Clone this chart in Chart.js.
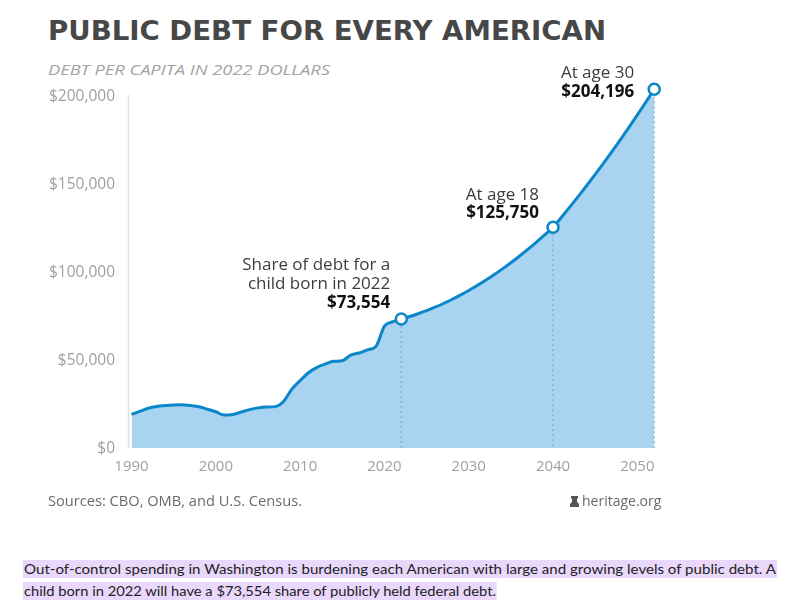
<!DOCTYPE html>
<html>
<head>
<meta charset="utf-8">
<script src="https://cdn.jsdelivr.net/npm/chart.js@4/dist/chart.umd.min.js"></script>
<style>
  html, body { margin:0; padding:0; background:#fff; }
  body { width:800px; height:608px; position:relative; overflow:hidden; }
  .abs { position:absolute; white-space:nowrap; transform-origin:left top; }
  #title { left:48px; top:18px; font:bold 26px "DejaVu Sans"; line-height:26px; color:#474747; }
  #subtitle { left:48px; top:61.7px; font:italic 15px "Open Sans"; line-height:15px; color:#a3a3a3; }
  #sources { left:48px; top:493.6px; font:14px "Open Sans"; line-height:14px; color:#6a6a6a; }
  #heritage { left:570px; top:493.6px; font:14px "Open Sans"; line-height:14px; color:#6a6a6a; }
  .cap { left:23px; font:14px "Lato"; line-height:18px; height:18px; color:#222; background:#e9d8fb; display:inline-block; padding:0 1px; }
  #cap1 { top:560px; }
  #cap2 { top:582px; }
  #wrap { position:absolute; left:0; top:0; width:800px; height:608px; }
</style>
</head>
<body>
<div id="title" class="abs">PUBLIC DEBT FOR EVERY AMERICAN</div>
<div id="subtitle" class="abs">DEBT PER CAPITA IN 2022 DOLLARS</div>
<div id="wrap"><canvas id="c" width="800" height="608"></canvas></div>
<div id="sources" class="abs">Sources: CBO, OMB, and U.S. Census.</div>
<div id="heritage" class="abs"><svg width="9" height="11" viewBox="0 0 9 11" style="vertical-align:-1px;margin-right:3px"><path d="M1 0h7v2l-1 1v3l2 2v3H0V8l2-2V3L1 2z" fill="#555"/></svg>heritage.org</div>
<div id="cap1" class="abs cap">Out-of-control spending in Washington is burdening each American with large and growing levels of public debt. A</div>
<div id="cap2" class="abs cap">child born in 2022 will have a $73,554 share of publicly held federal debt.</div>

<script>
// ---- data ----
const years = [1990,1991,1992,1993,1994,1995,1996,1997,1998,1999,
               2000,2001,2002,2003,2004,2005,2006,2007,2008,2009,
               2010,2011,2012,2013,2014,2015,2016,2017,2018,2019,
               2020,2021,2022,2023,2024,2025,2026,2027,2028,2029,
               2030,2031,2032,2033,2034,2035,2036,2037,2038,2039,
               2040,2041,2042,2043,2044,2045,2046,2047,2048,2049,
               2050,2051,2052];
const debtPerCapita = [19300,21000,22800,23800,24300,24700,24800,24300,23600,22200,
                       20800,18900,19200,20600,22000,23000,23500,23700,26500,33500,
                       38500,43000,46000,48000,49500,49800,53000,54200,56000,58000,
                       69500,72000,73554,74966,76553,78315,80252,82364,84651,87113,
                       89750,92562,95549,98711,102048,105560,109247,113109,117146,121358,
                       125750,131462,137324,143336,149498,155810,162272,168884,175646,182558,
                       189620,196832,204196];
const xTickYears = [1990,2000,2010,2020,2030,2040,2050];
const yTickValues = [0,50000,100000,150000,200000];
const markerYears = [2022,2040,2052];
const markerLabelLines = [["Share of debt for a","child born in 2022"],["At age 18"],["At age 30"]];
const markerValueLabels = ["$73,554","$125,750","$204,196"];

// ---- styling ----
const BLUE = '#0b86c8';
const FILL = '#a8d3f1';
// text offsets relative to marker point (dx to right edge, dy of first line center, line gap)
const labelOffsets = [{dx:-11, dy:-54, gap:19}, {dx:-14, dy:-32, gap:17.7}, {dx:-20, dy:-16, gap:18.4}];

const annotPlugin = {
  id: 'annot',
  beforeDatasetsDraw(chart) {
    const {ctx, chartArea} = chart;
    ctx.save();
    ctx.strokeStyle = '#e2e2e2';
    ctx.lineWidth = 1.5;
    ctx.beginPath();
    ctx.moveTo(chartArea.left - 3, chartArea.top - 2);
    ctx.lineTo(chartArea.left - 3, chartArea.bottom);
    ctx.stroke();
    ctx.restore();
  },
  afterDatasetsDraw(chart) {
    const {ctx, chartArea, scales} = chart;
    ctx.save();
    markerYears.forEach((yr, k) => {
      const idx = years.indexOf(yr);
      const px = scales.x.getPixelForValue(yr);
      const py = scales.y.getPixelForValue(debtPerCapita[idx]);
      // dotted drop line
      ctx.strokeStyle = '#7f9db5';
      ctx.lineWidth = 1;
      ctx.setLineDash([2, 3]);
      ctx.beginPath();
      ctx.moveTo(px, py + 7);
      ctx.lineTo(px, chartArea.bottom);
      ctx.stroke();
      ctx.setLineDash([]);
      // labels
      const o = labelOffsets[k];
      ctx.textAlign = 'right';
      ctx.textBaseline = 'middle';
      const lines = markerLabelLines[k];
      lines.forEach((t, j) => {
        ctx.font = '17px "Open Sans"';
        ctx.fillStyle = '#3c3c3c';
        ctx.fillText(t, px + o.dx, py + o.dy + j * o.gap);
      });
      ctx.font = 'bold 17px "Open Sans"';
      ctx.fillStyle = '#111';
      ctx.fillText(markerValueLabels[k], px + o.dx, py + o.dy + lines.length * o.gap);
    });
    ctx.restore();
  }
};

const pointRadii = years.map(y => markerYears.includes(y) ? 5.5 : 0);

new Chart(document.getElementById('c'), {
  type: 'line',
  data: {
    datasets: [{
      data: years.map((y, i) => ({x: y, y: debtPerCapita[i]})),
      borderColor: BLUE,
      borderWidth: 3,
      backgroundColor: FILL,
      fill: 'origin',
      cubicInterpolationMode: 'monotone',
      pointRadius: pointRadii,
      pointHoverRadius: pointRadii,
      pointBackgroundColor: '#fff',
      pointBorderColor: BLUE,
      pointBorderWidth: 2.5,
      clip: false
    }]
  },
  options: {
    responsive: false,
    animation: false,
    events: [],
    layout: { padding: { left: 0, right: 145.8, top: 96.7, bottom: 0 } },
    plugins: { legend: { display: false }, tooltip: { enabled: false }, title: { display: false } },
    scales: {
      x: {
        type: 'linear',
        min: 1990, max: 2052,
        afterBuildTicks: (axis) => { axis.ticks = xTickYears.map(v => ({value: v})); },
        afterFit: (axis) => { axis.height = 159.7; },
        grid: { display: false, drawTicks: false },
        border: { display: false },
        ticks: {
          padding: 9,
          color: '#a0a0a0',
          font: { family: 'Open Sans', size: 15 },
          callback: (v) => String(v),
          maxRotation: 0
        }
      },
      y: {
        min: 0, max: 200000,
        afterBuildTicks: (axis) => { axis.ticks = yTickValues.map(v => ({value: v})); },
        afterFit: (axis) => { axis.width = 131.5; },
        grid: { display: false, drawTicks: false },
        border: { display: false },
        ticks: {
          padding: 16.5,
          color: '#a0a0a0',
          font: { family: 'Open Sans', size: 15.5 },
          callback: (v) => '$' + Number(v).toLocaleString('en-US')
        }
      }
    }
  },
  plugins: [annotPlugin]
});

// fit HTML text widths to reference
function fit(id, w) {
  const el = document.getElementById(id);
  el.style.transform = 'none';
  const r = el.getBoundingClientRect().width;
  if (r > 0) el.style.transform = 'scaleX(' + (w / r) + ')';
}
function fitAll() {
  fit('title', 558);
  fit('subtitle', 282);
  fit('sources', 254);
  fit('cap1', 754);
  fit('cap2', 474);
}
fitAll();
if (document.fonts && document.fonts.ready) document.fonts.ready.then(fitAll);
</script>
</body>
</html>
